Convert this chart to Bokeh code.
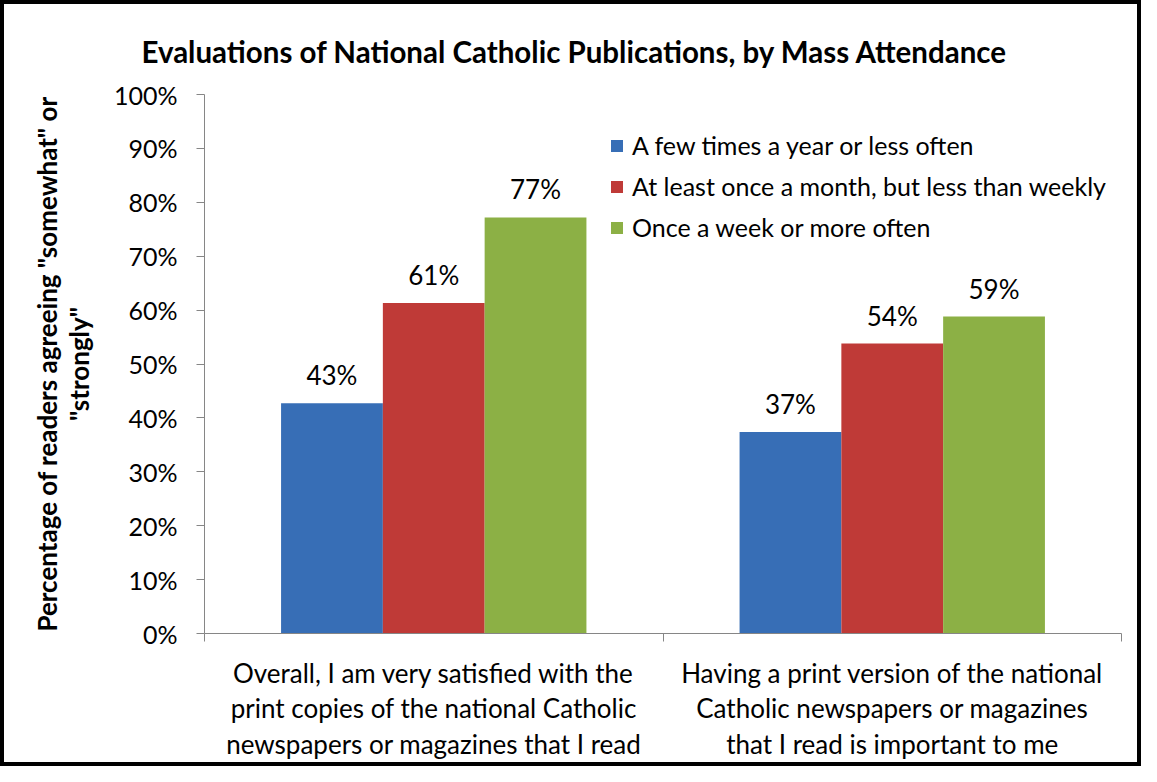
import numpy as np
from bokeh.plotting import figure
from bokeh.models import ColumnDataSource, Range1d, FixedTicker, Legend, LegendItem
from bokeh.core.properties import value
from bokeh.embed import file_html
from bokeh.resources import INLINE

# ---- data ----
categories = [
    "Overall, I am very satisfied with the\nprint copies of the national Catholic\nnewspapers or magazines that I read",
    "Having a print version of the national\nCatholic newspapers or magazines\nthat I read is important to me",
]
series_names = [
    "A few times a year or less often",
    "At least once a month, but less than weekly",
    "Once a week or more often",
]
few_times_a_year = [42.7, 37.4]
monthly = [61.3, 53.8]
weekly = [77.2, 58.8]
y_ticks = [0, 10, 20, 30, 40, 50, 60, 70, 80, 90, 100]
y_tick_labels = ["0%", "10%", "20%", "30%", "40%", "50%", "60%", "70%", "80%", "90%", "100%"]

series_values = [few_times_a_year, monthly, weekly]
colors = ["#376eb6", "#bf3a37", "#8cb045"]

FONT = "Lato"
W, H = 1133, 758   # plus a 4px black border on every side -> 1141 x 766

p = figure(
    width=W, height=H,
    x_range=Range1d(0, 2), y_range=Range1d(0, 100),
    output_backend="svg", toolbar_location=None,
    min_border_left=200, min_border_right=24,
    min_border_top=90, min_border_bottom=137,
)
p.styles = {"border": "4px solid #000000", "box-sizing": "content-box"}
p.outline_line_color = None
p.xgrid.visible = False
p.ygrid.visible = False
p.background_fill_color = "white"
p.border_fill_color = "white"

# title
p.title.text = "Evaluations of National Catholic Publications, by Mass Attendance"
p.title.text_font = FONT
p.title.text_font_style = "bold"
p.title.text_font_size = "29.5px"
p.title.text_color = "#000000"
p.title.align = "left"
p.title.offset = -63
p.title.standoff = 52

group_centers = np.arange(len(categories)) + 0.5
bar_w = 0.222
offsets = [-bar_w, 0.0, bar_w]

items = []
for name, vals, col, off in zip(series_names, series_values, colors, offsets):
    xs = group_centers + off
    src = ColumnDataSource(dict(
        x=xs, top=vals,
        label=["%d%%" % round(v) for v in vals],
    ))
    r = p.vbar(x="x", top="top", bottom=0, width=bar_w, source=src,
               fill_color=col, line_color=None)
    p.text(x="x", y="top", text="label", source=src,
           text_align="center", text_baseline="alphabetic", y_offset=-28,
           text_font=value(FONT), text_font_size="26px", text_color="#000000")
    items.append(LegendItem(label=name, renderers=[r]))

legend = Legend(items=items, location=(405, 391))
legend.border_line_color = None
legend.background_fill_alpha = 0
legend.padding = 0
legend.margin = 0
legend.spacing = 11
legend.glyph_width = 15
legend.glyph_height = 15
legend.label_standoff = 8
legend.label_text_font = FONT
legend.label_text_font_size = "25px"
legend.label_text_color = "#000000"
p.add_layout(legend)

# y axis
ya = p.yaxis[0]
ya.ticker = FixedTicker(ticks=y_ticks)
ya.major_label_overrides = {t: l for t, l in zip(y_ticks, y_tick_labels)}
ya.minor_tick_line_color = None
ya.axis_line_color = "#868686"
ya.major_tick_line_color = "#868686"
ya.major_tick_in = 0
ya.major_tick_out = 8
ya.major_label_standoff = 19
ya.major_label_text_font = FONT
ya.major_label_text_font_size = "25px"
ya.major_label_text_color = "#000000"
ya.axis_label = 'Percentage of readers agreeing "somewhat" or\n"strongly"'
ya.axis_label_text_font = FONT
ya.axis_label_text_font_style = "bold"
ya.axis_label_text_font_size = "26px"
ya.axis_label_text_line_height = 1.0
ya.axis_label_text_color = "#000000"
ya.axis_label_standoff = 16

# x axis
xa = p.xaxis[0]
xa.ticker = FixedTicker(ticks=list(group_centers), minor_ticks=[0, 1, 2])
xa.major_label_overrides = {float(c): lab for c, lab in zip(group_centers, categories)}
xa.axis_line_color = "#868686"
xa.major_tick_in = 0
xa.major_tick_out = 0
xa.minor_tick_in = 0
xa.minor_tick_out = 8
xa.minor_tick_line_color = "#868686"
xa.major_label_standoff = 15
xa.major_label_text_font = FONT
xa.major_label_text_font_size = "26px"
xa.major_label_text_line_height = 1.12
xa.major_label_text_color = "#000000"

open("out.html", "w").write(file_html(p, INLINE))
